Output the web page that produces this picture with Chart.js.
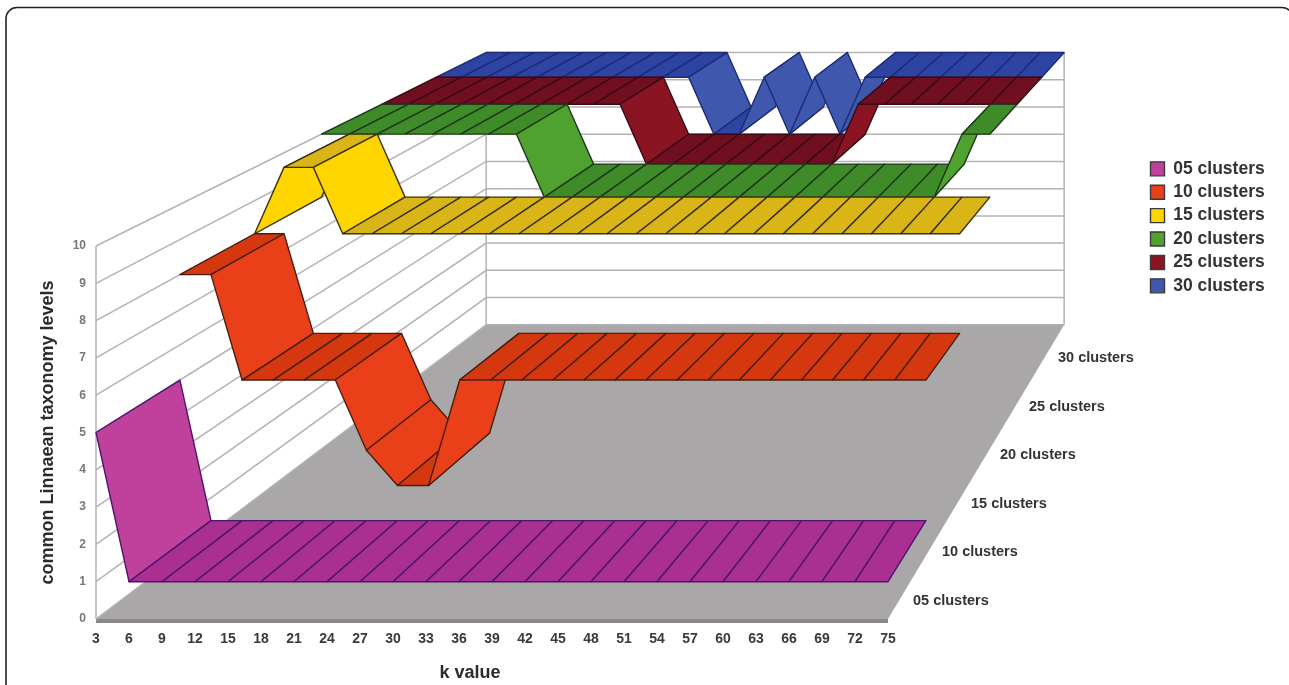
<!DOCTYPE html>
<html>
<head>
<meta charset="utf-8">
<style>html,body{margin:0;padding:0;background:#fff;overflow:hidden}canvas{display:block}</style>
<script src="https://cdn.jsdelivr.net/npm/chart.js@4"></script>
</head>
<body>
<canvas id="c" width="1289" height="685"></canvas>
<script>
// ---- data ----
const kValues = ['3','6','9','12','15','18','21','24','27','30','33','36','39','42','45','48','51','54','57','60','63','66','69','72','75'];
const yTicks = [0,1,2,3,4,5,6,7,8,9,10];
const seriesNames = ['05 clusters','10 clusters','15 clusters','20 clusters','25 clusters','30 clusters'];
const clusters05 = [5,1,1,1,1,1,1,1,1,1,1,1,1,1,1,1,1,1,1,1,1,1,1,1,1];
const clusters10 = [8,8,5,5,5,5,3,2,2,5,5,5,5,5,5,5,5,5,5,5,5,5,5,5,5];
const clusters15 = [8,10,10,8,8,8,8,8,8,8,8,8,8,8,8,8,8,8,8,8,8,8,8,8,8];
const clusters20 = [10,10,10,10,10,10,10,10,8,8,8,8,8,8,8,8,8,8,8,8,8,8,8,10,10];
const clusters25 = [10,10,10,10,10,10,10,10,10,10,8,8,8,8,8,8,8,8,10,10,10,10,10,10,10];
const clusters30 = [10,10,10,10,10,10,10,10,10,10,10,8,8,10,8,10,8,10,10,10,10,10,10,10,10];
const seriesValues = [clusters05,clusters10,clusters15,clusters20,clusters25,clusters30];

// ---- styles ----
const flatColors  = ['#a92f90','#d5380f','#dab518','#3f8a29','#700f20','#2d44a2'];
const slopeColors = ['#bf419c','#e9401a','#ffd500','#4fa22f','#8a1422','#3f57ad'];
const edgeColors  = ['#4d1470','#4a1f12','#3a3212','#1f3a1a','#3a0a12','#1c2a78'];
const gridColor = '#b4b2b2', floorColor = '#a9a7a7', floorEdge = '#8a8888';

// ---- 3D projection: perspective towards a vanishing point ----
const VX = 1540, VY = -470, DEPTH_STEP = 0.0617;
function project(p, d){
  const s = 1/(1+DEPTH_STEP*d);
  return [VX+(p[0]-VX)*s, VY+(p[1]-VY)*s];
}
function poly(ctx, pts){
  ctx.beginPath();
  pts.forEach((p,i)=> i ? ctx.lineTo(p[0],p[1]) : ctx.moveTo(p[0],p[1]));
  ctx.closePath();
}

const room = {
  id:'room',
  beforeDraw(chart){
    const ctx = chart.ctx;
    ctx.save();
    ctx.fillStyle = '#fff';
    ctx.fillRect(0,0,chart.width,chart.height);
    ctx.strokeStyle = '#222';
    ctx.lineWidth = 1.6;
    ctx.beginPath();
    ctx.roundRect(6,7.5,1287,720,11);
    ctx.stroke();
    ctx.restore();
  },
  afterLayout(chart){
    const l = chart.legend;
    const w = l.width, h = l.height;
    l.left = 1144.6; l.top = 154.2; l.right = l.left+w; l.bottom = l.top+h;
  },
  beforeDatasetsDraw(chart){
    const ctx = chart.ctx, {x,y} = chart.scales;
    const xL = x.getPixelForValue(0), xR = x.getPixelForValue(kValues.length-1);
    const y0 = y.getPixelForValue(0), D = seriesNames.length;
    ctx.save();
    // floor
    ctx.fillStyle = floorColor;
    poly(ctx,[[xL,y0],[xR,y0],project([xR,y0],D),project([xL,y0],D)]);
    ctx.fill();
    ctx.fillStyle = floorEdge;
    ctx.fillRect(xL,y0,xR-xL,4);
    // walls
    ctx.strokeStyle = gridColor;
    ctx.lineWidth = 1.5;
    yTicks.forEach(v=>{
      const py = y.getPixelForValue(v);
      const a = project([xL,py],D), b = project([xR,py],D);
      ctx.beginPath();
      ctx.moveTo(xL,py); ctx.lineTo(a[0],a[1]); ctx.lineTo(b[0],b[1]);
      ctx.stroke();
    });
    const yT = y.getPixelForValue(yTicks[yTicks.length-1]);
    [[[xL,y0],0],[[xL,y0],D],[[xR,y0],D]].forEach(([p,d])=>{
      const a = project(p,d), b = project([p[0],yT],d);
      ctx.beginPath(); ctx.moveTo(a[0],a[1]); ctx.lineTo(b[0],b[1]); ctx.stroke();
    });
    // ribbons, back row first, left to right
    ctx.lineJoin = 'round';
    for(let i=seriesNames.length-1;i>=0;i--){
      const pts = chart.getDatasetMeta(i).data;
      ctx.strokeStyle = edgeColors[i];
      ctx.lineWidth = 1.4;
      for(let j=0;j<pts.length-1;j++){
        const a=[pts[j].x,pts[j].y], b=[pts[j+1].x,pts[j+1].y];
        ctx.fillStyle = seriesValues[i][j]===seriesValues[i][j+1] ? flatColors[i] : slopeColors[i];
        poly(ctx,[project(a,i),project(b,i),project(b,i+1),project(a,i+1)]);
        ctx.fill();
        ctx.stroke();
      }
    }
    ctx.restore();
  },
  afterDraw(chart){
    const ctx = chart.ctx, {x,y} = chart.scales;
    const xR = x.getPixelForValue(kValues.length-1), y0 = y.getPixelForValue(0);
    ctx.save();
    ctx.fillStyle = '#333';
    ctx.font = 'bold 14.5px "Liberation Sans"';
    ctx.textAlign = 'left';
    ctx.textBaseline = 'middle';
    seriesNames.forEach((n,i)=>{
      ctx.fillText(n, xR+25+29*i, y0-18-48.6*i);
    });
    ctx.font = 'bold 18px "Liberation Sans"';
    ctx.textAlign = 'center';
    ctx.fillStyle = '#2b2b2b';
    ctx.fillText('k value', 470, 673);
    ctx.restore();
  }
};

new Chart(document.getElementById('c'), {
  type:'line',
  plugins:[room],
  data:{
    labels:kValues,
    datasets:seriesNames.map((n,i)=>({
      label:n,
      data:seriesValues[i],
      backgroundColor:slopeColors[i],
      borderColor:'#3a3a3a',
      borderWidth:1.4,
      showLine:false,
      pointRadius:0,
      pointHoverRadius:0
    }))
  },
  options:{
    responsive:false,
    animation:false,
    events:[],
    layout:{padding:{left:0,top:246,right:401,bottom:0}},
    plugins:{
      tooltip:{enabled:false},
      legend:{
        position:'chartArea',
        align:'start',
        labels:{boxWidth:14,boxHeight:14,padding:5.9,color:'#333',font:{family:'"Liberation Sans"',size:17.5,weight:'bold'}}
      }
    },
    scales:{
      x:{
        type:'category',
        offset:false,
        grid:{display:false,drawTicks:false},
        border:{display:false},
        ticks:{color:'#3a3a3a',font:{family:'"Liberation Sans"',size:14,weight:'bold'},padding:12,maxRotation:0,autoSkip:false},
        afterFit(s){s.height=66;}
      },
      y:{
        type:'linear',
        min:0,max:10,
        grid:{display:false,drawTicks:false},
        border:{display:false},
        title:{display:true,text:'common Linnaean taxonomy levels',color:'#2b2b2b',font:{family:'"Liberation Sans"',size:18,weight:'bold'},padding:{top:37,bottom:0}},
        ticks:{color:'#777',font:{family:'"Liberation Sans"',size:12,weight:'bold'},padding:10,stepSize:1,autoSkip:false},
        afterFit(s){s.width=96;}
      }
    }
  }
});
</script>
</body>
</html>
